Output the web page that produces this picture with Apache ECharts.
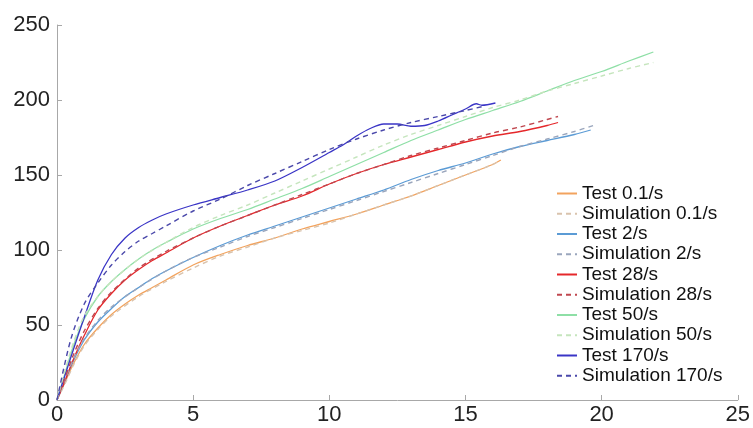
<!DOCTYPE html>
<html>
<head>
<meta charset="utf-8">
<script src="https://cdn.jsdelivr.net/npm/echarts@6/dist/echarts.min.js"></script>
<style>
  html, body { margin: 0; padding: 0; background: #fff; }
  #chart { width: 753px; height: 428px; }
</style>
</head>
<body>
<div id="chart"></div>
<script>
// Strain-rate curves: [x, y] pairs for each test and simulation
const test01 = [[0,0],[0.3,12],[0.6,24],[1,37],[1.5,48],[2,57],[2.5,64],[3,70],[3.5,75],[4,80],[5,90],[6,97],[7,103],[8,108],[9,114],[10,119],[11,124],[12,130],[13,136],[14,143],[15,150],[16,157],[16.3,160]];
const sim01  = [[0,0],[0.3,11],[0.6,23],[1,36],[1.5,47],[2,56],[3,69],[4,79],[5,88],[6,96],[7,102],[8,108],[9,113],[10,118],[11,124],[12,130],[13,136],[14,143],[15,150],[16,157],[16.2,159]];
const test2  = [[0,0],[0.3,13],[0.6,26],[1,40],[1.5,52],[2,61],[2.5,69],[3,75],[3.5,81],[4,86],[5,95],[6,103],[7,110],[8,116],[9,122],[10,128],[11,134],[12,140],[13,147],[14,153],[15,158],[16,164],[17,169],[18,173],[19,177],[19.6,180]];
const sim2   = [[0,0],[0.3,14],[0.6,27],[1,41],[1.5,53],[2,62],[3,75],[4,86],[5,95],[6,102],[7,109],[8,115],[9,121],[10,127],[11,133],[12,139],[13,145],[14,151],[15,157],[16,163],[17,169],[18,174],[19,179],[19.7,183]];
const test28 = [[0,0],[0.3,13],[0.6,27],[1,43],[1.5,60],[2,71],[2.5,80],[3,87],[3.5,93],[4,98],[5,108],[6,116],[7,123],[8,130],[9,136],[10,144],[11,151],[12,157],[13,162],[14,167],[15,172],[16,176],[17,179],[18,183],[18.4,185]];
const sim28  = [[0,0],[0.3,15],[0.6,30],[1,46],[1.5,61],[2,72],[3,88],[4,99],[5,108],[6,116],[7,123],[8,130],[9,137],[10,144],[11,151],[12,157],[13,163],[14,168],[15,173],[16,178],[17,182],[18,187],[18.4,189]];
const test50 = [[0,0],[0.3,18],[0.6,36],[1,54],[1.5,69],[2,79],[2.5,87],[3,94],[3.5,100],[4,105],[5,114],[6,121],[7,127],[8,134],[9,141],[10,149],[11,157],[12,165],[13,173],[14,180],[15,187],[16,193],[17,199],[18,206],[19,213],[20,219],[21,226],[21.9,232]];
const sim50  = [[0,0],[0.3,20],[0.6,38],[1,56],[1.5,69],[2,79],[3,94],[4,105],[5,115],[6,123],[7,130],[8,138],[9,146],[10,154],[11,162],[12,170],[13,177],[14,183],[15,189],[16,195],[17,200],[18,206],[19,211],[20,216],[21,221],[21.9,225]];
const test170 = [[0,0],[0.5,28],[1,55],[1.5,80],[2,97],[2.5,108],[3,115],[3.5,120],[4,124],[5,130],[6,135],[7,140],[8,146],[9,155],[10,165],[10.5,170],[11,176],[11.5,181],[12,184],[12.5,184],[13,182.5],[13.5,183],[14,186],[14.5,190],[15,194],[15.4,197.5],[15.6,196.5],[16.1,198]];
const sim170  = [[0,0],[0.5,40],[1,64],[1.5,78],[2,90],[2.5,99],[3,106],[3.5,111],[4,116],[5,126],[6,134],[7,143],[8,151],[9,159],[10,167],[11,174],[12,180],[13,185],[14,189],[15,193],[15.7,196]];

const seriesNames = ['Test 0.1/s','Simulation 0.1/s','Test 2/s','Simulation 2/s','Test 28/s','Simulation 28/s','Test 50/s','Simulation 50/s','Test 170/s','Simulation 170/s'];
const seriesData  = [test01, sim01, test2, sim2, test28, sim28, test50, sim50, test170, sim170];
const seriesColors = ['#f2a35e','#d9c3ad','#5b9bd5','#9aa6bd','#e5282b','#c0474f','#8edfa6','#c5e5bd','#3a35c6','#4a48aa'];

const chart = echarts.init(document.getElementById('chart'), null, { renderer: 'canvas' });

const series = seriesNames.map((name, i) => {
  const dashed = name.startsWith('Simulation');
  return {
    name: name,
    type: 'line',
    data: seriesData[i],
    smooth: 0.3,
    symbol: 'none',
    color: seriesColors[i],
    lineStyle: {
      width: dashed ? 1.4 : 1.3,
      color: seriesColors[i],
      type: dashed ? [5, 4] : 'solid'
    },
    z: dashed ? 3 : 2
  };
});

const axisFont = { fontFamily: 'Liberation Sans', fontSize: 22, color: '#222' };

chart.setOption({
  animation: false,
  backgroundColor: '#fff',
  grid: { left: 57, right: 9, top: 25, bottom: 28, containLabel: false },
  legend: {
    show: true,
    orient: 'vertical',
    left: 556,
    top: 184,
    itemWidth: 20,
    itemHeight: 12,
    itemGap: 1.25,
    padding: 0,
    itemStyle: { opacity: 0 },
    textStyle: { fontFamily: 'Liberation Sans', fontSize: 19, color: '#111' },
    data: seriesNames
  },
  xAxis: {
    type: 'value',
    min: 0, max: 25, interval: 5,
    axisLine: { show: true, lineStyle: { color: '#a8a8a8', width: 1 } },
    axisTick: { show: true, inside: true, length: 5, lineStyle: { color: '#a8a8a8' } },
    axisLabel: Object.assign({ margin: 4 }, axisFont),
    splitLine: { show: false }
  },
  yAxis: {
    type: 'value',
    min: 0, max: 250, interval: 50,
    axisLine: { show: true, lineStyle: { color: '#a8a8a8', width: 1 } },
    axisTick: { show: true, inside: true, length: 5, lineStyle: { color: '#a8a8a8' } },
    axisLabel: Object.assign({ margin: 7 }, axisFont),
    splitLine: { show: false }
  },
  series: series
});
</script>
</body>
</html>
